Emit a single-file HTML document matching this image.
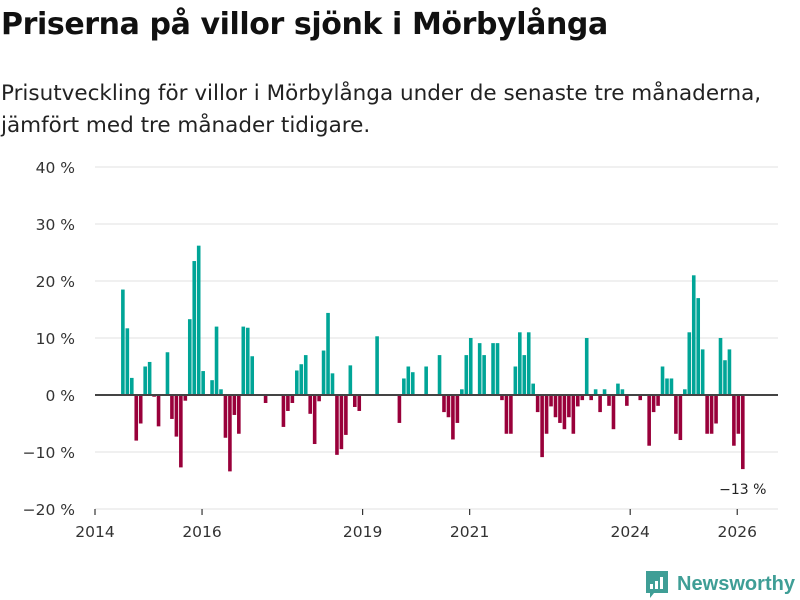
<!DOCTYPE html>
<html><head><meta charset="utf-8"><style>
body{margin:0;background:#fff;font-family:"DejaVu Sans","Liberation Sans",sans-serif;}
#wrap{position:relative;width:800px;height:600px;overflow:hidden;}
h1{position:absolute;left:1px;top:7px;margin:0;font-size:30px;font-weight:bold;color:#111;letter-spacing:-0.4px;white-space:nowrap;}
p.sub{position:absolute;left:1px;top:78px;margin:0;font-size:21.5px;line-height:32px;color:#222;width:799px;white-space:nowrap;}
</style></head><body>
<div id="wrap">
<h1>Priserna på villor sjönk i Mörbylånga</h1>
<p class="sub">Prisutveckling för villor i Mörbylånga under de senaste tre månaderna,<br>jämfört med tre månader tidigare.</p>
<svg id="chart" width="800" height="600" style="position:absolute;left:0;top:0"></svg>
</div>
<script>
const months = [6,7,8,9,10,11,12,13,14,16,17,18,19,20,21,22,23,24,26,27,28,29,30,31,32,33,34,35,38,42,43,44,45,46,47,48,49,50,51,52,53,54,55,56,57,58,59,63,68,69,70,71,74,77,78,79,80,81,82,83,84,86,87,89,90,91,92,93,94,95,96,97,98,99,100,101,102,103,104,105,106,107,108,109,110,111,112,113,114,115,116,117,118,119,122,124,125,126,127,128,129,130,131,132,133,134,135,136,137,138,139,140,141,142,143,144,145];
const values = [18.5,11.7,3,-8,-5,5,5.8,-0.3,-5.5,7.5,-4.2,-7.3,-12.7,-1,13.3,23.5,26.2,4.2,2.6,12,1,-7.5,-13.4,-3.5,-6.8,12,11.8,6.8,-1.4,-5.6,-2.8,-1.4,4.3,5.4,7,-3.3,-8.6,-1.1,7.8,14.4,3.8,-10.5,-9.5,-7,5.2,-2.1,-2.8,10.3,-4.9,2.9,5,4,5,7,-3,-3.9,-7.8,-4.9,1,7,10,9.1,7,9.1,9.1,-0.9,-6.8,-6.8,5,11,7,11,2,-3,-10.9,-6.8,-2,-3.9,-4.9,-6,-3.9,-6.8,-2,-0.9,10,-0.9,1,-3,1,-1.9,-6,2,1,-1.9,-0.9,-8.9,-3,-1.9,5,2.9,2.9,-6.8,-7.9,1,11,21,17,8,-6.8,-6.8,-5,10,6.1,8,-8.9,-6.8,-13];
const yTicks = [-20,-10,0,10,20,30,40];
const yTickLabels = ["−20 %","−10 %","0 %","10 %","20 %","30 %","40 %"];
const xTickYears = [2014,2016,2019,2021,2024,2026];
const lastLabel = "−13 %";

const svg = document.getElementById('chart');
const NS = 'http://www.w3.org/2000/svg';
const X0 = 95, PX_PER_MONTH = 4.46, Y0 = 395, PX_PER_PCT = 5.7;
function x(m){ return X0 + m*PX_PER_MONTH; }
function y(v){ return Y0 - v*PX_PER_PCT; }
function mk(tag, attrs){ const e=document.createElementNS(NS,tag); for(const k in attrs) e.setAttribute(k,attrs[k]); svg.appendChild(e); return e; }

yTicks.forEach((t,i)=>{
  if(t!==0){
    const g = mk('line',{x1:95,x2:778,y1:y(t),y2:y(t),stroke:'#e1e1e1','stroke-width':1});
    
    
  }
  const tx = mk('text',{x:75,y:y(t)+6,'text-anchor':'end','font-size':15.5,fill:'#333'});
  tx.textContent = yTickLabels[i];
  
  
});
xTickYears.forEach(yr=>{
  const m=(yr-2014)*12;
  const tk = mk('line',{x1:x(m),x2:x(m),y1:509,y2:515,stroke:'#333','stroke-width':1.2});
  
  
  const tx = mk('text',{x:x(m),y:537,'text-anchor':'middle','font-size':15.5,fill:'#333'});
  tx.textContent = yr;
  
  
});
months.forEach((m,i)=>{
  const v=values[i];
  const cx = x(m+0.25);
  const r = mk('rect',{x:cx-1.8,width:3.6,y:Math.min(y(v),Y0),height:Math.abs(y(v)-Y0),fill:v>=0?'#00a597':'#99003a'});
  
  
});
const zl = mk('line',{x1:95,x2:778,y1:Y0,y2:Y0,stroke:'#444','stroke-width':2});


const li = months.length-1;
const lab = mk('text',{x:x(months[li]+0.25),y:y(values[li])+25,'text-anchor':'middle','font-size':14,fill:'#222'});
lab.textContent = lastLabel;



const logo = mk('g',{});


logo.innerHTML = '<path d="M646 571h22v22h-14l-4 5v-5h-4z" fill="#3f9e96"/><rect x="650" y="584" width="3" height="5" fill="#fff"/><rect x="655" y="581" width="3" height="8" fill="#fff"/><rect x="660" y="577" width="3" height="12" fill="#fff"/><text x="677" y="590" font-size="20" font-weight="bold" font-family="Liberation Sans, sans-serif" fill="#3f9e96" textLength="118" lengthAdjust="spacingAndGlyphs">Newsworthy</text>';
</script>
</body></html>
